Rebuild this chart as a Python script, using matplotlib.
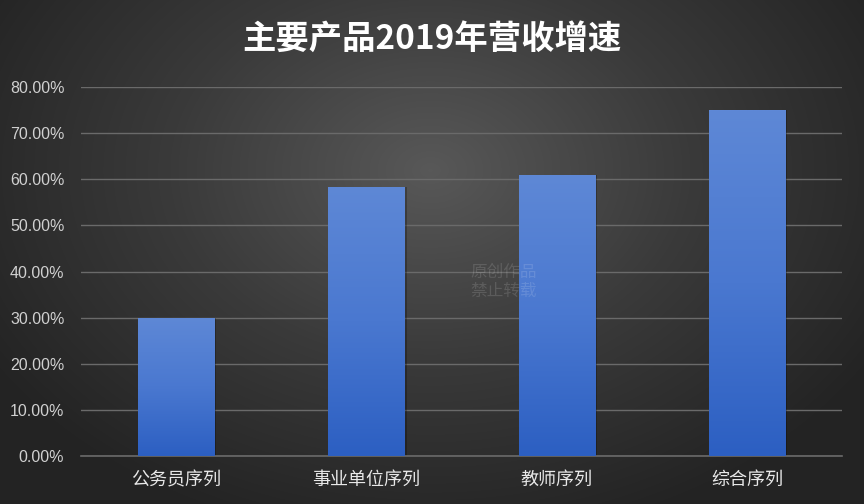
import numpy as np
import matplotlib
matplotlib.use('Agg')
import matplotlib.pyplot as plt
from matplotlib.colors import LinearSegmentedColormap
from matplotlib.ticker import FuncFormatter

plt.rcParams['font.family'] = ['Noto Sans CJK SC', 'DejaVu Sans']

# 数据
categories = ['公务员序列', '事业单位序列', '教师序列', '综合序列']
growth = [30.0, 58.4, 60.9, 75.0]
title = '主要产品2019年营收增速'

fig = plt.figure(figsize=(8.64, 5.04), dpi=100)

# 背景径向渐变
bg = fig.add_axes([0, 0, 1, 1], zorder=0)
yy, xx = np.mgrid[0:504, 0:864]
r = np.sqrt(((xx - 430) / 520.0) ** 2 + ((yy - 170) / 380.0) ** 2)
r = np.clip(r, 0, 1)
bg_cmap = LinearSegmentedColormap.from_list('bg', ['#585858', '#3a3a3a', '#232323'])
bg.imshow(r, cmap=bg_cmap, aspect='auto', extent=[0, 1, 0, 1], origin='upper')
bg.axis('off')

ax = fig.add_axes([81 / 864, (504 - 456) / 504, (842 - 81) / 864, (456 - 87) / 504], zorder=1)
ax.patch.set_alpha(0)

pos = np.arange(len(categories))
width = 0.4
bars = ax.bar(pos, growth, width, color='none', zorder=3)

# 柱子渐变填充
bar_cmap = LinearSegmentedColormap.from_list('bar', ['#2c5fc2', '#4a78d0', '#5e88d6'])
grad = np.linspace(0, 1, 256).reshape(-1, 1)
for b in bars:
    x0, y0 = b.get_x(), b.get_y()
    w, h = b.get_width(), b.get_height()
    # 阴影
    ax.bar(x0 + w / 2 + 0.012, h, w, bottom=y0, color='black', alpha=0.25, zorder=2)
    im = ax.imshow(grad, cmap=bar_cmap, aspect='auto', origin='lower',
                   extent=[x0, x0 + w, y0, y0 + h], zorder=3)
    im.set_clip_path(b)

ax.set_xlim(-0.5, len(categories) - 0.5)
ax.set_ylim(0, 80)
ax.set_yticks(np.arange(0, 81, 10))
ax.yaxis.set_major_formatter(FuncFormatter(lambda v, p: f'{v:.2f}%'))
ax.grid(axis='y', color='#6a6a6a', linewidth=1, zorder=1)
ax.set_axisbelow(True)
for s in ['top', 'right', 'left']:
    ax.spines[s].set_visible(False)
ax.spines['bottom'].set_color('#6a6a6a')
ax.spines['bottom'].set_linewidth(1.2)
ax.tick_params(length=0)
ax.set_xticks(pos)
ax.set_xticklabels(categories, fontsize=13, color='#e8e8e8')
ax.tick_params(axis='x', pad=11)
for lab in ax.get_yticklabels():
    lab.set_family(['Liberation Sans', 'DejaVu Sans'])
    lab.set_fontsize(11.5)
    lab.set_color('#d0d0d0')
ax.tick_params(axis='y', pad=12)

fig.text(0.5, 0.922, title, ha='center', va='center', fontsize=24, fontweight='bold',
         color='white')

# 水印
fig.text(470 / 864, 1 - 282 / 504, '原创作品\n禁止转载', ha='left', va='center', fontsize=12,
         color='white', alpha=0.13, linespacing=1.1, zorder=5)

fig.savefig('out.png', dpi=100)
